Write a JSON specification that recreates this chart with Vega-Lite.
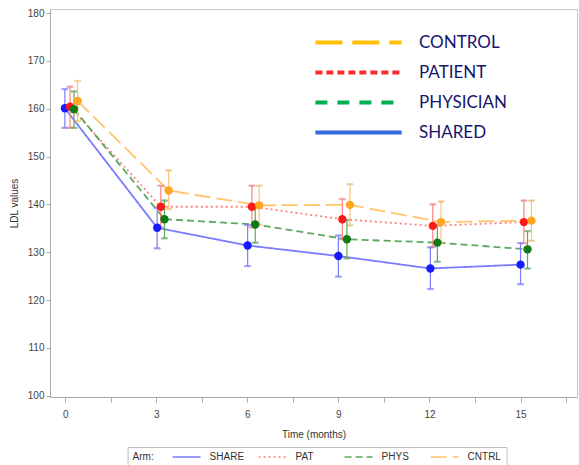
{
  "$schema": "https://vega.github.io/schema/vega-lite/v6.json",
  "width": 527,
  "height": 388,
  "autosize": "none",
  "padding": {"left": 50, "top": 9, "right": 2, "bottom": 68},
  "background": "white",
  "config": {
    "font": "Liberation Sans",
    "view": {"stroke": "#c8c8c8"},
    "axis": {
      "grid": false,
      "domainColor": "#a8a8a8",
      "tickColor": "#a8a8a8",
      "labelColor": "#444444",
      "titleColor": "#333333",
      "labelFontSize": 10,
      "titleFontSize": 10,
      "titleFontWeight": "normal",
      "labelOverlap": false
    }
  },
  "datasets": {
    "arms": [
      {"arm": "SHARE", "time": -0.01, "mean": 160.1, "lo": 156.0, "hi": 164.1},
      {"arm": "SHARE", "time": 3.03, "mean": 135.1, "lo": 130.8, "hi": 139.3},
      {"arm": "SHARE", "time": 6.01, "mean": 131.4, "lo": 127.1, "hi": 135.7},
      {"arm": "SHARE", "time": 9.0, "mean": 129.2, "lo": 124.9, "hi": 133.5},
      {"arm": "SHARE", "time": 12.03, "mean": 126.6, "lo": 122.3, "hi": 131.0},
      {"arm": "SHARE", "time": 15.0, "mean": 127.4, "lo": 123.3, "hi": 131.9},
      {"arm": "PAT", "time": 0.16, "mean": 160.4, "lo": 156.0, "hi": 164.6},
      {"arm": "PAT", "time": 3.15, "mean": 139.5, "lo": 135.1, "hi": 143.9},
      {"arm": "PAT", "time": 6.15, "mean": 139.5, "lo": 135.2, "hi": 143.9},
      {"arm": "PAT", "time": 9.13, "mean": 136.9, "lo": 132.7, "hi": 141.1},
      {"arm": "PAT", "time": 12.11, "mean": 135.5, "lo": 131.1, "hi": 140.0},
      {"arm": "PAT", "time": 15.11, "mean": 136.3, "lo": 131.9, "hi": 140.8},
      {"arm": "PHYS", "time": 0.29, "mean": 159.9, "lo": 156.0, "hi": 163.6},
      {"arm": "PHYS", "time": 3.27, "mean": 136.9, "lo": 132.9, "hi": 140.8},
      {"arm": "PHYS", "time": 6.26, "mean": 135.8, "lo": 132.0, "hi": 139.6},
      {"arm": "PHYS", "time": 9.28, "mean": 132.7, "lo": 128.7, "hi": 136.7},
      {"arm": "PHYS", "time": 12.26, "mean": 132.0, "lo": 128.0, "hi": 135.6},
      {"arm": "PHYS", "time": 15.23, "mean": 130.6, "lo": 126.6, "hi": 134.4},
      {"arm": "CNTRL", "time": 0.41, "mean": 161.6, "lo": 157.4, "hi": 165.8},
      {"arm": "CNTRL", "time": 3.41, "mean": 142.9, "lo": 139.0, "hi": 147.1},
      {"arm": "CNTRL", "time": 6.39, "mean": 139.8, "lo": 135.7, "hi": 143.9},
      {"arm": "CNTRL", "time": 9.38, "mean": 139.9, "lo": 135.6, "hi": 144.2},
      {"arm": "CNTRL", "time": 12.38, "mean": 136.3, "lo": 132.0, "hi": 140.6},
      {"arm": "CNTRL", "time": 15.36, "mean": 136.6, "lo": 132.4, "hi": 140.8}
    ],
    "key": [
      {"group": "CONTROL"},
      {"group": "PATIENT"},
      {"group": "PHYSICIAN"},
      {"group": "SHARED"}
    ]
  },
  "layer": [
    {
      "data": {"name": "arms"},
      "encoding": {
        "x": {
          "field": "time",
          "type": "quantitative",
          "title": "Time (months)",
          "scale": {"domain": [-0.5, 16.86], "nice": false, "zero": false},
          "axis": {
            "values": [0, 1.5, 3, 4.5, 6, 7.5, 9, 10.5, 12, 13.5, 15, 16.5],
            "labelExpr": "datum.value % 3 === 0 ? datum.label : ''",
            "tickSize": 5,
            "labelPadding": 7,
            "titlePadding": 10
          }
        }
      },
      "layer": [
        {
          "mark": {"type": "line", "strokeWidth": 1.8},
          "encoding": {
            "y": {
              "field": "mean",
              "type": "quantitative",
              "title": "LDL values",
              "scale": {"domain": [99.73, 180.84], "nice": false, "zero": false},
              "axis": {
                "values": [100, 105, 110, 115, 120, 125, 130, 135, 140, 145, 150, 155, 160, 165, 170, 175, 180],
                "labelExpr": "datum.value % 10 === 0 ? datum.label : ''",
                "tickSize": 4,
                "labelPadding": 2,
                "titlePadding": 8
              }
            },
            "stroke": {
              "field": "arm",
              "type": "nominal",
              "scale": {
                "domain": ["SHARE", "PAT", "PHYS", "CNTRL"],
                "range": ["#7b7bff", "#ff8080", "#5ea85e", "#ffc46c"]
              },
              "legend": {
                "orient": "none",
                "legendX": 77.6,
                "legendY": 438,
                "direction": "horizontal",
                "columns": 4,
                "gridAlign": "all",
                "title": "Arm:",
                "titleOrient": "left",
                "titleFontSize": 10,
                "titleFontWeight": "normal",
                "titleColor": "#333333",
                "titlePadding": 27,
                "labelFontSize": 10,
                "labelColor": "#333333",
                "symbolType": "M-4,0H4",
                "symbolSize": 49,
                "symbolStrokeWidth": 1.5,
                "labelOffset": 18,
                "columnPadding": 11,
                "padding": 5,
                "strokeColor": "#c0c0c0"
              }
            },
            "strokeDash": {
              "field": "arm",
              "type": "nominal",
              "scale": {
                "domain": ["SHARE", "PAT", "PHYS", "CNTRL"],
                "range": [[1, 0], [2, 3], [7, 4], [16, 6]]
              }
            }
          }
        },
        {
          "mark": {"type": "errorbar", "ticks": {"size": 6}, "thickness": 1.2},
          "encoding": {
            "y": {"field": "lo", "type": "quantitative", "title": "LDL values"},
            "y2": {"field": "hi"},
            "stroke": {"field": "arm", "type": "nominal", "legend": null}
          }
        },
        {
          "mark": {"type": "point", "filled": true, "size": 70, "opacity": 1},
          "encoding": {
            "y": {"field": "mean", "type": "quantitative", "title": "LDL values"},
            "fill": {
              "field": "arm",
              "type": "nominal",
              "legend": null,
              "scale": {
                "domain": ["SHARE", "PAT", "PHYS", "CNTRL"],
                "range": ["#1a1aff", "#ff1a1a", "#137a13", "#ffa51e"]
              }
            }
          }
        }
      ]
    },
    {
      "data": {"name": "key"},
      "mark": {"type": "line", "opacity": 0},
      "encoding": {
        "stroke": {
          "field": "group",
          "type": "nominal",
          "scale": {
            "domain": ["CONTROL", "PATIENT", "PHYSICIAN", "SHARED"],
            "range": ["#ffc000", "#ff2a2a", "#00b050", "#2f6bdc"]
          },
          "legend": {
            "orient": "none",
            "legendX": 299,
            "legendY": 24,
            "title": null,
            "padding": 0,
            "symbolType": "M-5.75,0H5.75",
            "symbolSize": 225,
            "symbolStrokeWidth": 4,
            "symbolOpacity": 1,
            "labelOffset": 51,
            "labelFont": "Lato",
            "labelFontSize": 17,
            "labelColor": "#15156e",
            "rowPadding": 12
          }
        },
        "strokeDash": {
          "field": "group",
          "type": "nominal",
          "scale": {
            "domain": ["CONTROL", "PATIENT", "PHYSICIAN", "SHARED"],
            "range": [[27, 10], [7, 4], [12, 10], [1, 0]]
          }
        }
      }
    }
  ],
  "resolve": {
    "scale": {"stroke": "independent", "strokeDash": "independent"},
    "legend": {"stroke": "independent", "strokeDash": "independent"}
  }
}
